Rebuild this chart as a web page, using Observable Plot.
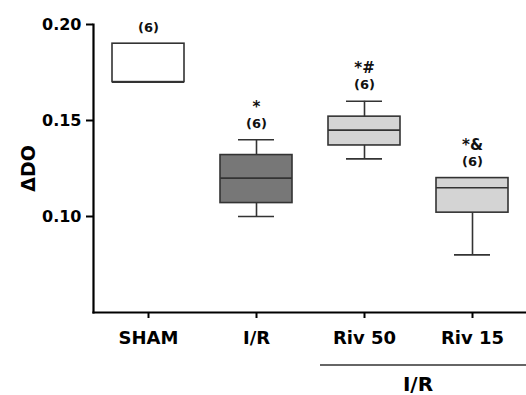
<!DOCTYPE html>
<html>
<head>
<meta charset="utf-8">
<script src="https://cdn.jsdelivr.net/npm/d3@7"></script>
<script src="https://cdn.jsdelivr.net/npm/@observablehq/plot@0.6"></script>
<style>
  html, body { margin: 0; padding: 0; background: #fff; overflow: hidden; }
</style>
</head>
<body>
<div id="chart"></div>
<script>
const groups = ["SHAM", "I/R", "Riv 50", "Riv 15"];
const whiskerLow = [0.17, 0.10, 0.13, 0.08];
const q1 = [0.17, 0.107, 0.137, 0.102];
const median = [0.17, 0.12, 0.145, 0.115];
const q3 = [0.19, 0.132, 0.152, 0.12];
const whiskerHigh = [0.19, 0.14, 0.16, 0.12];
const nLabels = ["(6)", "(6)", "(6)", "(6)"];
const sigLabels = ["", "*", "*#", "*&"];
const boxFills = ["#ffffff", "#777777", "#d4d4d4", "#d4d4d4"];
const yTicks = [0.10, 0.15, 0.20];
const groupLabel = "I/R";
const groupMembers = ["Riv 50", "Riv 15"];

const data = groups.map((g, i) => ({
  g, lo: whiskerLow[i], q1: q1[i], med: median[i], q3: q3[i], hi: whiskerHigh[i],
  n: nLabels[i], sig: sigLabels[i], fill: boxFills[i]
}));

const FONT = "DejaVu Sans, Liberation Sans, Arial, sans-serif";
const stroke = "#333";
const plot = Plot.plot({
  width: 526,
  height: 395,
  marginLeft: 93,
  marginRight: 0,
  marginTop: 24,
  marginBottom: 83,
  style: { fontFamily: FONT, fontWeight: "bold", background: "#fff" },
  x: { domain: groups, padding: 0 },
  y: { domain: [0.05, 0.20] },
  color: { type: "identity" },
  marks: [
    Plot.ruleX(data, { x: "g", y1: "lo", y2: "hi", stroke, strokeWidth: 1.6 }),
    Plot.tickY(data, { x: "g", y: "lo", stroke, strokeWidth: 1.6, insetLeft: 36, insetRight: 36 }),
    Plot.tickY(data, { x: "g", y: "hi", stroke, strokeWidth: 1.6, insetLeft: 36, insetRight: 36 }),
    Plot.barY(data, { x: "g", y1: "q1", y2: "q3", fill: "fill", stroke, strokeWidth: 1.6, insetLeft: 18, insetRight: 18 }),
    Plot.tickY(data, { x: "g", y: "med", stroke, strokeWidth: 1.6, insetLeft: 18, insetRight: 18 }),
    Plot.text(data, { x: "g", y: "hi", text: "n", dy: -16, fontSize: 13, fontWeight: "bold", fill: "#111" }),
    Plot.text(data, { x: "g", y: "hi", text: "sig", dy: -33, fontSize: 15, fontWeight: "bold", fill: "#111" }),
    Plot.axisY({ ticks: yTicks, tickFormat: ".2f", tickSize: 7, tickPadding: 5, fontSize: 16, fontWeight: "bold", strokeWidth: 2, stroke: "#000", fill: "#000", label: null }),
    Plot.axisX({ tickSize: 6, tickPadding: 13, fontSize: 18, fontWeight: "bold", strokeWidth: 2, stroke: "#000", fill: "#000", label: null }),
    Plot.frame({ anchor: "left", stroke: "#000", strokeWidth: 2.2 }),
    Plot.frame({ anchor: "bottom", stroke: "#000", strokeWidth: 2.2 }),
    Plot.text(["ΔDO"], { frameAnchor: "left", textAnchor: "middle", rotate: -90, dx: -65, fontSize: 19, fontWeight: "bold", fill: "#000" })
  ]
});

document.getElementById("chart").appendChild(plot);

// group bracket under the x axis
const xs = plot.scale("x");
const svg = d3.select(plot);
const c1 = xs.apply(groupMembers[0]) + xs.bandwidth / 2;
const c2 = xs.apply(groupMembers[1]) + xs.bandwidth / 2;
svg.append("line")
  .attr("x1", c1 - 44).attr("x2", 526).attr("y1", 365).attr("y2", 365)
  .attr("stroke", stroke).attr("stroke-width", 1.5);
svg.append("text")
  .attr("x", (c1 + c2) / 2).attr("y", 391)
  .attr("text-anchor", "middle")
  .attr("font-family", FONT)
  .attr("font-size", 20).attr("font-weight", "bold").attr("fill", "#000")
  .text(groupLabel);
</script>
</body>
</html>
